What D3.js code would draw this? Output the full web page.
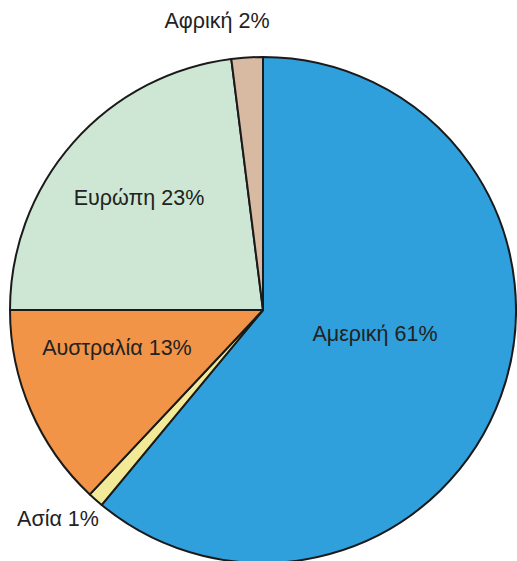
<!DOCTYPE html>
<html><head><meta charset="utf-8">
<script src="https://cdn.jsdelivr.net/npm/d3@7"></script>
<style>body{margin:0;background:#fff}svg{display:block}</style>
</head><body>
<svg id="c" width="517" height="561"></svg>
<script>
const categories = ["Αμερική","Ασία","Αυστραλία","Ευρώπη","Αφρική"];
const values = [61,1,13,23,2];
const colors = ["#2fa0dc","#f3ea98","#f29447","#cde7d4","#d8b9a2"];
const labelPos = [[375,334],[58,519],[117,348],[139,198],[217,21]];

const svg = d3.select("#c");
const cx = 263, cy = 310, r = 253;
const pie = d3.pie().sort(null).value(d=>d)(values);
const arc = d3.arc().innerRadius(0).outerRadius(r);
const g = svg.append("g").attr("transform",`translate(${cx},${cy})`);
g.selectAll("path").data(pie).join("path")
  .attr("d",arc).attr("fill",(d,i)=>colors[i])
  .attr("stroke","#1a1a1a").attr("stroke-width",2).attr("stroke-linejoin","round");
svg.selectAll("text").data(categories).join("text")
  .attr("x",(d,i)=>labelPos[i][0]).attr("y",(d,i)=>labelPos[i][1])
  .attr("text-anchor","middle").attr("dominant-baseline","central")
  .attr("font-family","Liberation Sans, Arial, sans-serif").attr("font-size",21.5)
  .attr("fill","#222")
  .text((d,i)=>`${d} ${values[i]}%`);
</script>
</body></html>
